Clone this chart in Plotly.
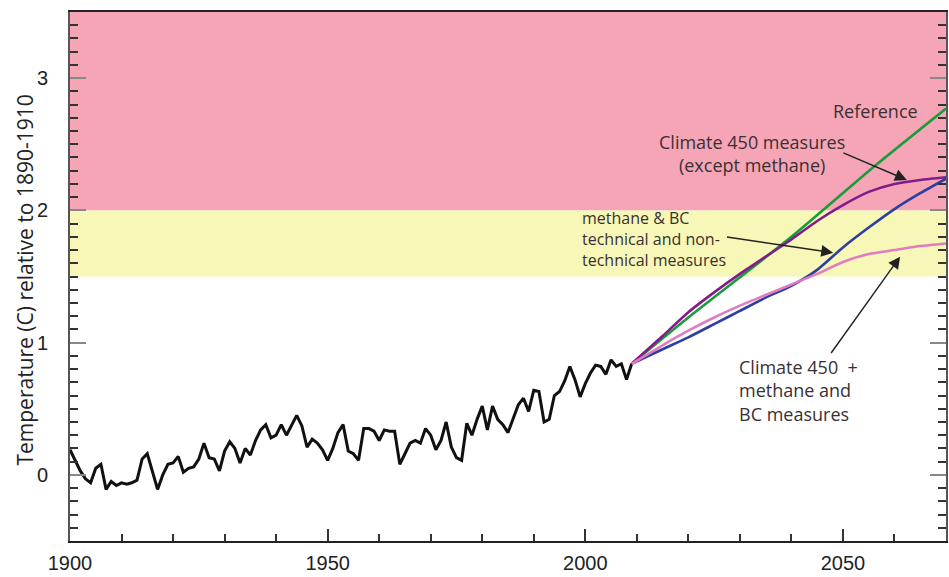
import plotly.graph_objects as go

# Observed annual temperature anomaly (C, relative to 1890-1910)
hist_years = list(range(1900, 2010))
hist_temp = [
    0.19, 0.11, 0.03, -0.03, -0.06, 0.05, 0.08, -0.11, -0.05, -0.08,
    -0.06, -0.07, -0.06, -0.04, 0.12, 0.16, 0.03, -0.11, 0.00, 0.08,
    0.09, 0.14, 0.02, 0.05, 0.06, 0.12, 0.24, 0.13, 0.12, 0.03,
    0.18, 0.25, 0.20, 0.09, 0.20, 0.15, 0.26, 0.34, 0.38, 0.28,
    0.30, 0.38, 0.30, 0.37, 0.45, 0.37, 0.21, 0.27, 0.24, 0.19,
    0.11, 0.20, 0.32, 0.38, 0.18, 0.16, 0.11, 0.35, 0.35, 0.33,
    0.26, 0.34, 0.33, 0.33, 0.08, 0.16, 0.24, 0.26, 0.24, 0.35,
    0.30, 0.19, 0.26, 0.40, 0.21, 0.13, 0.11, 0.39, 0.30, 0.42,
    0.52, 0.34, 0.52, 0.42, 0.38, 0.32, 0.43, 0.53, 0.58, 0.48,
    0.64, 0.63, 0.40, 0.42, 0.60, 0.63, 0.71, 0.82, 0.72, 0.59,
    0.69, 0.77, 0.83, 0.82, 0.76, 0.87, 0.82, 0.84, 0.72, 0.84,
]

# Scenario projections
ref_years = [2009, 2020, 2040, 2056, 2070]
reference = [0.84, 1.19, 1.80, 2.33, 2.77]

proj_years = [2009, 2015, 2020, 2025, 2030, 2035, 2040, 2045, 2050, 2055, 2060, 2065, 2070]
climate450 = [0.84, 1.05, 1.23, 1.38, 1.52, 1.65, 1.78, 1.92, 2.04, 2.14, 2.20, 2.23, 2.25]
methane_bc = [0.84, 0.95, 1.04, 1.14, 1.24, 1.34, 1.43, 1.55, 1.72, 1.87, 2.01, 2.13, 2.24]
combined = [0.84, 0.98, 1.09, 1.19, 1.28, 1.36, 1.44, 1.52, 1.61, 1.67, 1.70, 1.73, 1.75]

# Temperature bands (lower, upper)
danger_band = (2.0, 3.5)
caution_band = (1.5, 2.0)

x_range = [1900, 2070]
y_range = [-0.5, 3.5]

fig = go.Figure()

fig.add_shape(type="rect", xref="paper", yref="y", x0=0, x1=1,
              y0=danger_band[0], y1=danger_band[1],
              fillcolor="rgb(245,165,182)", line_width=0, layer="below")
fig.add_shape(type="rect", xref="paper", yref="y", x0=0, x1=1,
              y0=caution_band[0], y1=caution_band[1],
              fillcolor="rgb(247,248,183)", line_width=0, layer="below")

fig.add_trace(go.Scatter(x=hist_years, y=hist_temp, mode="lines",
                         line=dict(color="#111111", width=3), name="Observed"))

scenarios = [
    ("Reference", ref_years, reference, "#1a9c3c"),
    ("Climate 450 measures (except methane)", proj_years, climate450, "#831c8a"),
    ("methane & BC measures", proj_years, methane_bc, "#2f3f9f"),
    ("Climate 450 + methane and BC measures", proj_years, combined, "#e27cc0"),
]
for name, xs, vals, color in scenarios:
    fig.add_trace(go.Scatter(x=xs, y=vals, mode="lines",
                             line=dict(color=color, width=2.6, shape="spline", smoothing=0.6),
                             name=name))

txt_font = dict(family="Open Sans, Noto Sans, sans-serif", size=18, color="#3a3034")
small_font = dict(family="Open Sans, Noto Sans, sans-serif", size=16, color="#3a3034")

fig.add_annotation(x=2056.4, y=2.75, text="Reference", showarrow=False,
                   xanchor="center", yanchor="middle", font=txt_font)
fig.add_annotation(x=2032.3, y=2.43, text="Climate 450 measures<br>(except methane)",
                   showarrow=False, xanchor="center", yanchor="middle", align="center",
                   font=txt_font)
fig.add_annotation(x=1999.0, y=1.78,
                   text="methane &amp; BC<br>technical and non-<br>technical measures",
                   showarrow=False, xanchor="left", yanchor="middle", align="left",
                   font=small_font)
fig.add_annotation(x=2029.4, y=0.64,
                   text="Climate 450\u00a0 +<br>methane and<br>BC measures",
                   showarrow=False, xanchor="left", yanchor="middle", align="left",
                   font=txt_font)

# Pointer arrows (head at x/y, tail at ax/ay)
arrows = [
    (2062.4, 2.23, 2049.8, 2.44),
    (2048.1, 1.68, 2027.2, 1.80),
    (2061.1, 1.65, 2047.5, 0.91),
]
for hx, hy, tx, ty in arrows:
    fig.add_annotation(x=hx, y=hy, ax=tx, ay=ty, xref="x", yref="y",
                       axref="x", ayref="y", text="", showarrow=True,
                       arrowhead=2, arrowsize=1.7, arrowwidth=1.4,
                       arrowcolor="#222222", standoff=0)

fig.add_annotation(xref="paper", yref="paper", x=-0.051, y=0.493,
                   text="Temperature (C) relative to 1890-1910", textangle=-90,
                   showarrow=False, xanchor="center", yanchor="middle",
                   font=dict(family="Open Sans, Noto Sans, sans-serif", size=21, color="#222222"))

tick_font = dict(family="Liberation Sans, Arial, sans-serif", size=20, color="#222222")

fig.update_xaxes(range=x_range, tickmode="array", tickvals=[1900, 1950, 2000, 2050],
                 ticktext=["1900", "1950", "2000", "2050"],
                 ticks="inside", ticklen=12, tickwidth=1.5, tickcolor="#333333",
                 minor=dict(dtick=10, tick0=1900, ticks="inside", ticklen=7,
                            tickwidth=1.5, tickcolor="#333333"),
                 showline=True, linecolor="#222222", linewidth=2, mirror=True,
                 showgrid=False, zeroline=False, tickfont=tick_font,
                 ticklabelstandoff=3, automargin=False)
fig.update_yaxes(range=y_range, tickmode="array", tickvals=[0, 1, 2, 3],
                 ticktext=["0", "1", "2", "3"],
                 ticks="inside", ticklen=16, tickwidth=2, tickcolor="#888888",
                 minor=dict(dtick=0.1, tick0=0, ticks="inside", ticklen=8,
                            tickwidth=1.5, tickcolor="#333333"),
                 showline=True, linecolor="#555555", linewidth=2, mirror="ticks",
                 showgrid=False, zeroline=False, tickfont=tick_font,
                 ticklabelstandoff=16, automargin=False)

fig.update_layout(width=949, height=577,
                  margin=dict(l=70, r=3, t=12, b=36, pad=0),
                  plot_bgcolor="white", paper_bgcolor="white",
                  showlegend=False)

fig.write_html("out.html")
